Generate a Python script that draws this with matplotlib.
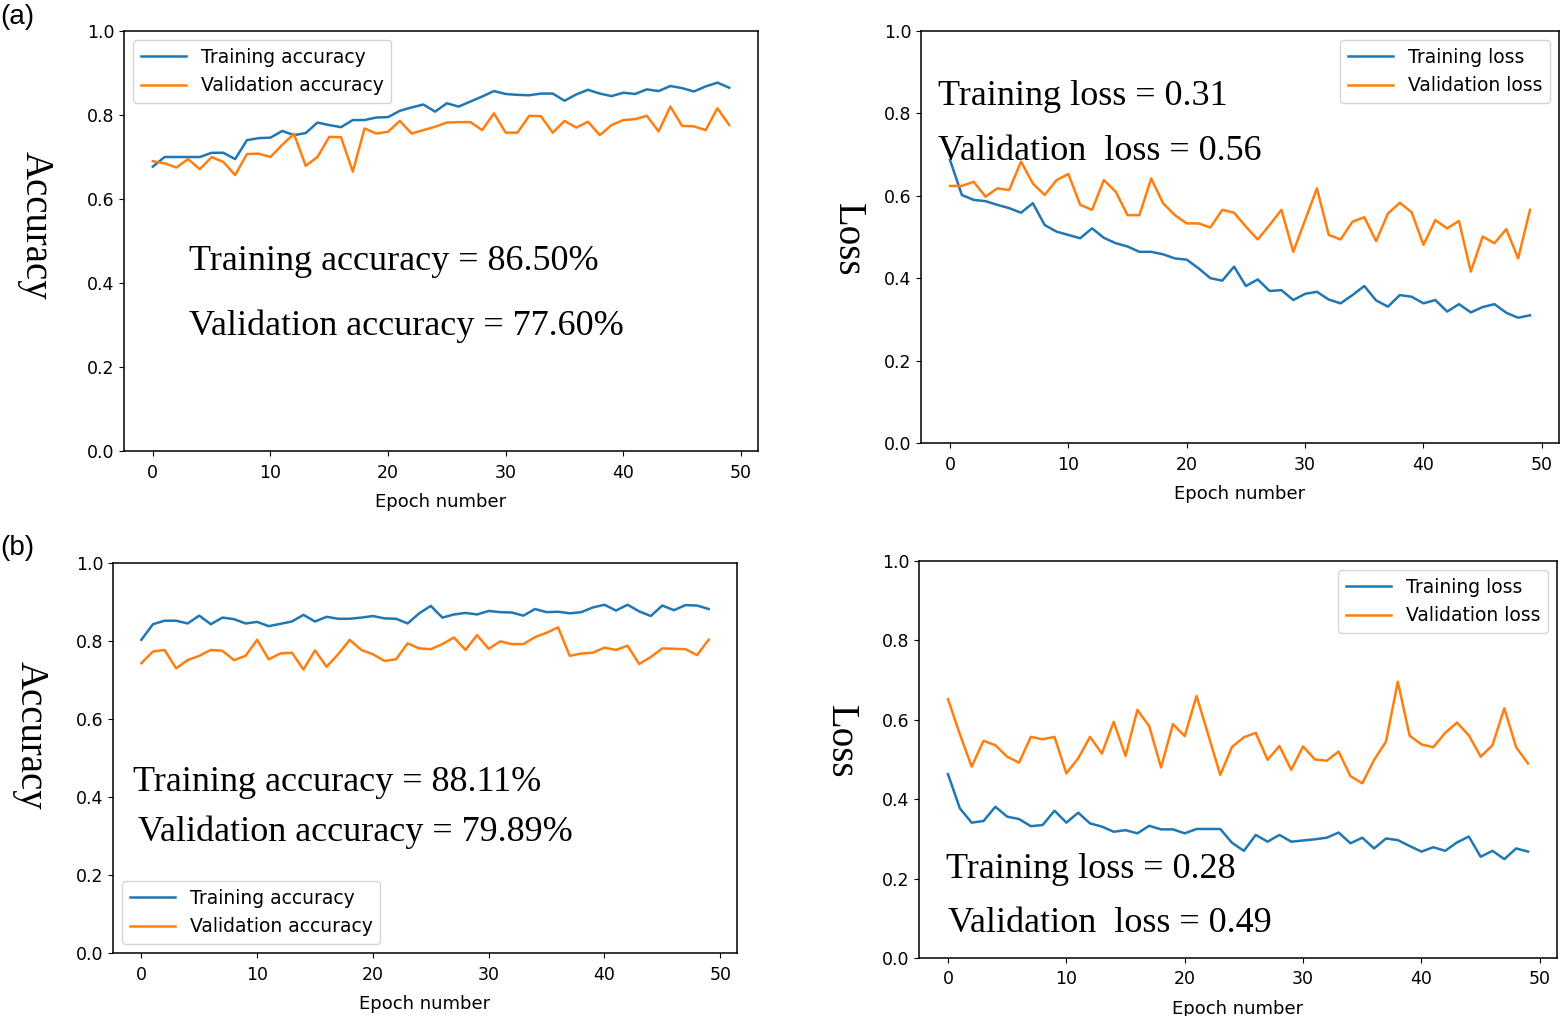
import numpy as np
import matplotlib
matplotlib.use("Agg")
import matplotlib.pyplot as plt

plt.rcParams["font.family"] = "DejaVu Sans"
plt.rcParams["xtick.labelsize"] = 12.5
plt.rcParams["ytick.labelsize"] = 12.5
plt.rcParams["xtick.major.pad"] = 5.5

epochs = np.arange(50)

a_train_acc = [0.677, 0.700, 0.700, 0.700, 0.700, 0.710, 0.710, 0.695, 0.740, 0.745,
               0.746, 0.762, 0.752, 0.757, 0.782, 0.776, 0.771, 0.788, 0.788, 0.794,
               0.795, 0.810, 0.818, 0.825, 0.808, 0.828, 0.820, 0.832, 0.844, 0.857,
               0.850, 0.848, 0.847, 0.851, 0.851, 0.834, 0.849, 0.860, 0.851, 0.845,
               0.853, 0.850, 0.861, 0.857, 0.869, 0.864, 0.856, 0.868, 0.877, 0.865]
a_val_acc = [0.690, 0.685, 0.675, 0.695, 0.671, 0.700, 0.688, 0.657, 0.707, 0.708,
             0.700, 0.729, 0.755, 0.679, 0.700, 0.748, 0.747, 0.665, 0.768, 0.756,
             0.760, 0.786, 0.756, 0.764, 0.772, 0.782, 0.783, 0.783, 0.764, 0.804,
             0.758, 0.758, 0.798, 0.797, 0.758, 0.786, 0.770, 0.784, 0.752, 0.776,
             0.788, 0.790, 0.798, 0.761, 0.820, 0.774, 0.773, 0.764, 0.816, 0.776]
a_train_loss = [0.687, 0.602, 0.590, 0.587, 0.578, 0.570, 0.559, 0.582, 0.529, 0.513,
                0.505, 0.497, 0.521, 0.498, 0.485, 0.477, 0.464, 0.464, 0.458, 0.448,
                0.445, 0.424, 0.400, 0.394, 0.428, 0.381, 0.397, 0.369, 0.371, 0.347,
                0.362, 0.367, 0.348, 0.339, 0.359, 0.381, 0.346, 0.331, 0.359, 0.355,
                0.339, 0.347, 0.319, 0.337, 0.317, 0.330, 0.337, 0.316, 0.304, 0.310]
a_val_loss = [0.624, 0.624, 0.634, 0.598, 0.618, 0.614, 0.683, 0.630, 0.602, 0.638,
              0.653, 0.578, 0.566, 0.638, 0.610, 0.553, 0.553, 0.642, 0.582, 0.553,
              0.533, 0.533, 0.523, 0.566, 0.559, 0.525, 0.494, 0.529, 0.566, 0.464,
              0.541, 0.618, 0.505, 0.494, 0.537, 0.548, 0.490, 0.557, 0.583, 0.560,
              0.481, 0.541, 0.521, 0.539, 0.416, 0.501, 0.485, 0.519, 0.448, 0.566]

b_train_acc = [0.803, 0.843, 0.852, 0.852, 0.845, 0.865, 0.843, 0.860, 0.856, 0.845,
               0.849, 0.838, 0.844, 0.850, 0.867, 0.850, 0.862, 0.857, 0.857, 0.860,
               0.864, 0.858, 0.857, 0.845, 0.871, 0.890, 0.860, 0.868, 0.872, 0.868,
               0.877, 0.874, 0.873, 0.865, 0.882, 0.874, 0.875, 0.871, 0.874, 0.886,
               0.893, 0.878, 0.893, 0.876, 0.864, 0.891, 0.879, 0.892, 0.891, 0.882]
b_val_acc = [0.743, 0.773, 0.777, 0.730, 0.751, 0.762, 0.777, 0.775, 0.751, 0.762,
             0.803, 0.753, 0.768, 0.770, 0.727, 0.776, 0.734, 0.766, 0.803, 0.777,
             0.766, 0.749, 0.753, 0.794, 0.781, 0.779, 0.792, 0.809, 0.777, 0.815,
             0.780, 0.799, 0.792, 0.792, 0.810, 0.821, 0.835, 0.762, 0.768, 0.770,
             0.783, 0.777, 0.788, 0.741, 0.759, 0.781, 0.780, 0.779, 0.764, 0.803]
b_train_loss = [0.463, 0.377, 0.341, 0.345, 0.381, 0.356, 0.350, 0.332, 0.335, 0.371,
                0.341, 0.366, 0.339, 0.331, 0.318, 0.322, 0.314, 0.333, 0.324, 0.324,
                0.314, 0.325, 0.325, 0.325, 0.290, 0.270, 0.310, 0.293, 0.310, 0.293,
                0.296, 0.299, 0.303, 0.316, 0.289, 0.303, 0.276, 0.301, 0.297, 0.282,
                0.268, 0.279, 0.270, 0.291, 0.306, 0.255, 0.270, 0.249, 0.276, 0.268]
b_val_loss = [0.652, 0.564, 0.482, 0.547, 0.536, 0.507, 0.492, 0.557, 0.551, 0.557,
              0.465, 0.503, 0.557, 0.515, 0.595, 0.509, 0.625, 0.584, 0.480, 0.589,
              0.559, 0.660, 0.561, 0.461, 0.532, 0.556, 0.567, 0.499, 0.534, 0.474,
              0.533, 0.500, 0.497, 0.520, 0.458, 0.440, 0.499, 0.545, 0.696, 0.560,
              0.538, 0.531, 0.567, 0.593, 0.561, 0.507, 0.536, 0.629, 0.531, 0.490]

W, H = 1563, 1016
fig = plt.figure(figsize=(W / 100, H / 100), dpi=100)


def px_axes(l, t, r, b):
    return fig.add_axes([l / W, 1 - b / H, (r - l) / W, (b - t) / H])


serif = "Liberation Serif"

panels = [
    # axes box, series, legend labels, legend loc, ylabel, ylabel pos, notes
    ((124, 31, 758, 451), a_train_acc, a_val_acc,
     ("Training accuracy", "Validation accuracy"), "upper left",
     "Accuracy", (35, 225),
     [(3.1, 0.452, "Training accuracy = 86.50%"),
      (3.1, 0.297, "Validation accuracy = 77.60%")]),
    ((921, 31, 1559, 443), a_train_loss, a_val_loss,
     ("Training loss", "Validation loss"), "upper right",
     "Loss", (847, 240),
     [(-1.0, 0.840, "Training loss = 0.31"),
      (-1.0, 0.707, "Validation  loss = 0.56")]),
    ((113, 563, 737, 953), b_train_acc, b_val_acc,
     ("Training accuracy", "Validation accuracy"), "lower left",
     "Accuracy", (30, 735),
     [(-0.7, 0.438, "Training accuracy = 88.11%"),
      (-0.25, 0.310, "Validation accuracy = 79.89%")]),
    ((919, 561, 1557, 958), b_train_loss, b_val_loss,
     ("Training loss", "Validation loss"), "upper right",
     "Loss", (840, 742),
     [(-0.17, 0.224, "Training loss = 0.28"),
      (0.0, 0.088, "Validation  loss = 0.49")]),
]

for box, train, val, labels, loc, ylab, ypos, notes in panels:
    ax = px_axes(*box)
    ax.plot(epochs, train, color="tab:blue", lw=1.8, label=labels[0])
    ax.plot(epochs, val, color="tab:orange", lw=1.8, label=labels[1])
    ax.set_ylim(0, 1.0)
    ax.set_xticks([0, 10, 20, 30, 40, 50])
    ax.set_yticks([0.0, 0.2, 0.4, 0.6, 0.8, 1.0])
    ax.set_xlabel("Epoch number", fontsize=13, labelpad=8)
    for s in ax.spines.values():
        s.set_linewidth(1.1)
    ax.legend(loc=loc, fontsize=13.5, handlelength=2.4)
    for x, y, txt in notes:
        ax.text(x, y, txt, family=serif, fontsize=26, va="center", ha="left")
    fig.text(ypos[0] / W, 1 - ypos[1] / H, ylab, family=serif, fontsize=28,
             rotation=270, ha="center", va="center")

fig.text(0, 1 - 17 / H, "(a)", family="Liberation Sans", fontsize=20,
         ha="left", va="center")
fig.text(0, 1 - 548 / H, "(b)", family="Liberation Sans", fontsize=20,
         ha="left", va="center")

fig.savefig("out.png", dpi=100)
